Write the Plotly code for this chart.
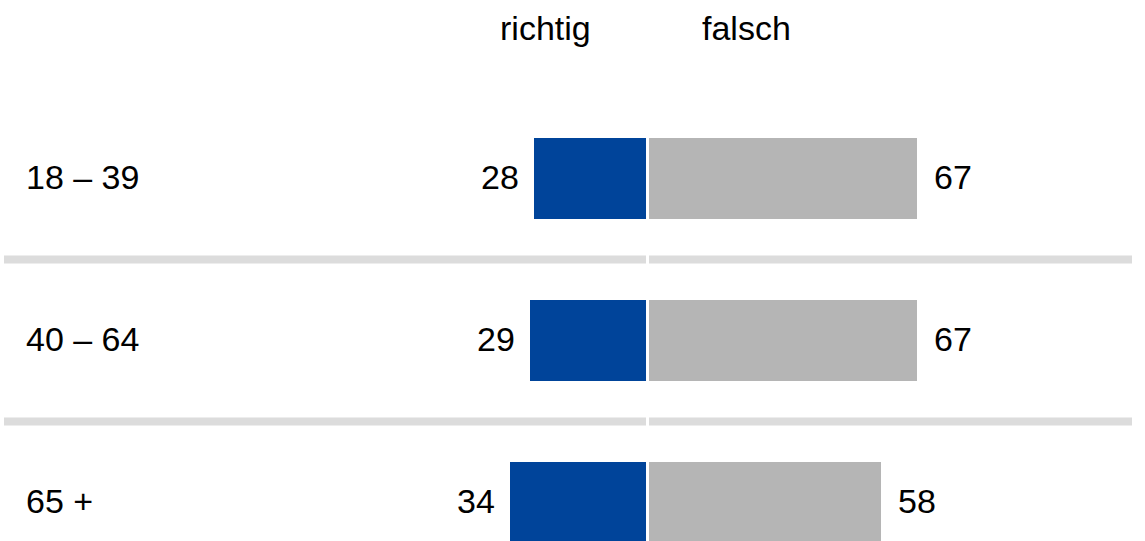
import plotly.graph_objects as go

categories = ["18 – 39", "40 – 64", "65 +"]
richtig = [28, 29, 34]
falsch = [67, 67, 58]
headers = ["richtig", "falsch"]

W, H = 1145, 541
CX = 647.5          # pixel position of the zero line
PXU = 4.0           # pixels per unit
GAP = 0.375         # half of the white gap at zero (units)
PITCH = 162.0       # pixels per row
ROW0 = 178.5        # pixel centre of first row

BLUE = "#00449a"
GREY = "#b5b5b5"
SEP = "#dcdcdc"
FONT = "Liberation Sans, Arial, sans-serif"
FS = 34

xr = [(0 - CX) / PXU, (W - CX) / PXU]
yr = [len(categories) - 1 + (H - (ROW0 + PITCH * (len(categories) - 1))) / PITCH, -ROW0 / PITCH]

fig = go.Figure()
fig.add_trace(go.Bar(
    y=categories, x=[-v for v in richtig], base=[-GAP] * len(richtig),
    orientation="h", width=0.5, marker=dict(color=BLUE, line=dict(width=0)),
    hoverinfo="skip", showlegend=False))
fig.add_trace(go.Bar(
    y=categories, x=falsch, base=[GAP] * len(falsch),
    orientation="h", width=0.5, marker=dict(color=GREY, line=dict(width=0)),
    hoverinfo="skip", showlegend=False))

ann = []
for i, c in enumerate(categories):
    ann.append(dict(x=24 / W, xref="paper", y=c, yref="y", text=c, showarrow=False,
                    xanchor="left", yanchor="middle", yshift=1.5,
                    font=dict(size=FS, color="black", family=FONT)))
    ann.append(dict(x=-richtig[i] - GAP, xref="x", y=c, yref="y", text=str(richtig[i]), showarrow=False,
                    xanchor="right", yanchor="middle", xshift=-13, yshift=1.5,
                    font=dict(size=FS, color="black", family=FONT)))
    ann.append(dict(x=falsch[i] + GAP, xref="x", y=c, yref="y", text=str(falsch[i]), showarrow=False,
                    xanchor="left", yanchor="middle", xshift=15, yshift=1.5,
                    font=dict(size=FS, color="black", family=FONT)))

ann.append(dict(x=-25.5, xref="x", y=1 - 28 / H, yref="paper", text=headers[0], showarrow=False,
                xanchor="center", yanchor="middle", font=dict(size=FS, color="black", family=FONT)))
ann.append(dict(x=24.75, xref="x", y=1 - 28 / H, yref="paper", text=headers[1], showarrow=False,
                xanchor="center", yanchor="middle", font=dict(size=FS, color="black", family=FONT)))

shapes = []
for k in range(len(categories) - 1):
    yy = k + 0.5
    shapes.append(dict(type="line", xref="x", yref="y", x0=(4 - CX) / PXU, x1=-GAP,
                       y0=yy, y1=yy, line=dict(color=SEP, width=8), layer="below"))
    shapes.append(dict(type="line", xref="x", yref="y", x0=GAP, x1=(1132 - CX) / PXU,
                       y0=yy, y1=yy, line=dict(color=SEP, width=8), layer="below"))

fig.update_layout(
    width=W, height=H, margin=dict(l=0, r=0, t=0, b=0),
    paper_bgcolor="white", plot_bgcolor="white",
    barmode="overlay", bargap=0,
    xaxis=dict(range=xr, visible=False, fixedrange=True),
    yaxis=dict(range=yr, visible=False, fixedrange=True, type="category",
               categoryorder="array", categoryarray=categories),
    annotations=ann, shapes=shapes,
)

fig.write_html("out.html", config={"displayModeBar": False},
               post_script="document.body.style.margin='0';document.body.style.padding='0';"
                           "document.body.style.overflow='hidden';")
